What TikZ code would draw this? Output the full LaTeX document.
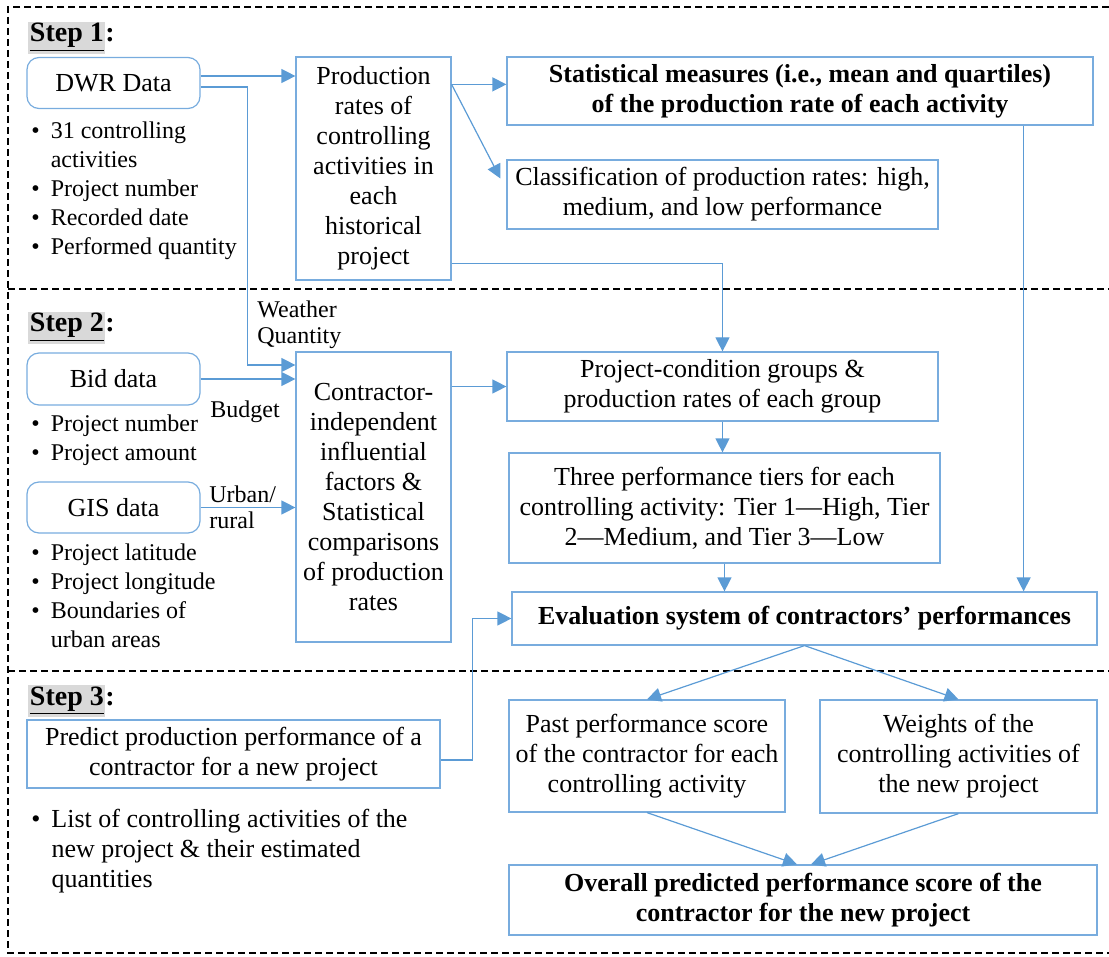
\documentclass[tikz,border=0pt]{standalone}
\usepackage{fontspec}
\setmainfont{Liberation Serif}
\usetikzlibrary{arrows.meta}
\definecolor{lineblue}{RGB}{91,155,213}
\definecolor{boxblue}{RGB}{120,172,222}
\definecolor{stepgray}{RGB}{217,217,217}
\newcommand{\boxfont}{\fontsize{13}{15}\selectfont}
\newcommand{\listfont}{\fontsize{12}{14.5}\selectfont}
\newcommand{\steplabel}[1]{{\setlength{\fboxsep}{0.8pt}\colorbox{stepgray}{\underline{Step #1}}}:}
\tikzset{
    box/.style={draw=boxblue, line width=0.6pt, align=center, inner sep=1pt, font=\boxfont},
    rbox/.style={box, rounded corners=6pt},
    bbox/.style={box, font=\boxfont\bfseries},
    list/.style={inner sep=0pt, anchor=base west, font=\listfont},
    lbl/.style={inner sep=0pt, align=left, font=\fontsize{12}{13}\selectfont},
    stepname/.style={inner sep=0pt, anchor=base west, font=\fontsize{14}{16}\selectfont\bfseries},
    arr/.style={draw=lineblue, line width=0.6pt, -{Triangle[length=7pt,width=7pt]}},
    stepframe/.style={draw=black, line width=1pt, dash pattern=on 3.5pt off 2pt}
}
\begin{document}
\begin{tikzpicture}[x=0.5pt,y=-0.5pt]
    \useasboundingbox (0,0) rectangle (1109,957);
    % Draw step frames
    \draw[stepframe] (1109,7) -- (8,7) -- (8,953) -- (1109,953);
    \draw[stepframe] (8,289) -- (1109,289);
    \draw[stepframe] (8,671) -- (1109,671);

    % Step 1
    \node[stepname] (step1) at (28,42) {\steplabel{1}};
    \node[rbox, minimum width=86.5pt, minimum height=25.5pt] (DWR) at (113.5,83) {DWR Data};
    \node[list] (dwrlist) at (31,139) {\begin{tabular}[t]{@{}l@{\hspace{5.5pt}}l@{}}
        \textbullet & 31 controlling\\
                    & activities\\
        \textbullet & Project number\\
        \textbullet & Recorded date\\
        \textbullet & Performed quantity
    \end{tabular}};
    \node[box, minimum width=77.5pt, minimum height=111.5pt] (Production) at (373.5,168.5)
        {Production\\rates of\\controlling\\activities in\\each\\historical\\project};
    \node[bbox, minimum width=293pt, minimum height=34pt] (Statistical) at (800,91)
        {Statistical measures (i.e., mean and quartiles)\\of the production rate of each activity};
    \node[box, minimum width=215.5pt, minimum height=34.5pt] (Classification) at (722.5,194.5)
        {Classification of production rates: high,\\medium, and low performance};

    % Step 2
    \node[stepname] (step2) at (28,332) {\steplabel{2}};
    \node[lbl, anchor=north west] (weatherlbl) at (257,300) {Weather\\Quantity};
    \node[rbox, minimum width=86.5pt, minimum height=26pt] (Bid) at (113.5,379) {Bid data};
    \node[lbl, anchor=base west] (budgetlbl) at (210,417) {Budget};
    \node[list] (bidlist) at (31,431) {\begin{tabular}[t]{@{}l@{\hspace{5.5pt}}l@{}}
        \textbullet & Project number\\
        \textbullet & Project amount
    \end{tabular}};
    \node[rbox, minimum width=86.5pt, minimum height=25.5pt] (GIS) at (113.5,507.5) {GIS data};
    \node[lbl, anchor=north west] (urbanlbl) at (209,485) {Urban/\\rural};
    \node[list] (gislist) at (31,560) {\begin{tabular}[t]{@{}l@{\hspace{5.5pt}}l@{}}
        \textbullet & Project latitude\\
        \textbullet & Project longitude\\
        \textbullet & Boundaries of\\
                    & urban areas
    \end{tabular}};
    \node[box, minimum width=77.5pt, minimum height=145pt] (Contractor) at (373.5,497)
        {Contractor-\\independent\\influential\\factors \&\\Statistical\\comparisons\\of production\\rates};
    \node[box, minimum width=215.5pt, minimum height=34.5pt] (ProjCond) at (722.5,386.5)
        {Project-condition groups \&\\production rates of each group};
    \node[box, minimum width=215.5pt, minimum height=55pt] (Three) at (724.5,508)
        {Three performance tiers for each\\controlling activity: Tier 1---High, Tier\\2---Medium, and Tier 3---Low};
    \node[bbox, minimum width=292.5pt, minimum height=26.5pt] (Evaluation) at (804.5,618.5)
        {Evaluation system of contractors’ performances};

    % Step 3
    \node[stepname] (step3) at (28,705) {\steplabel{3}};
    \node[box, minimum width=206.5pt, minimum height=34pt] (Predict) at (233.5,754)
        {Predict production performance of a\\contractor for a new project};
    \node[list, font=\boxfont] (predlist) at (31,827) {\begin{tabular}[t]{@{}l@{\hspace{5.5pt}}l@{}}
        \textbullet & List of controlling activities of the\\
                    & new project \& their estimated\\
                    & quantities
    \end{tabular}};
    \node[box, minimum width=138pt, minimum height=56pt] (Past) at (647,756)
        {Past performance score\\of the contractor for each\\controlling activity};
    \node[box, minimum width=138.5pt, minimum height=56.5pt] (Weights) at (958.5,756.5)
        {Weights of the\\controlling activities of\\the new project};
    \node[bbox, minimum width=294pt, minimum height=35pt] (Overall) at (803,900)
        {Overall predicted performance score of the\\contractor for the new project};

    % Connectors
    \coordinate (dwrA) at ([yshift=3.5pt]DWR.east);
    \coordinate (dwrB) at ([yshift=-2pt]DWR.east);
    \coordinate (conA) at ([yshift=66pt]Contractor.west);
    \coordinate (prodA) at ([yshift=-14pt]Production.north east);
    \coordinate (prodB) at ([yshift=8.5pt]Production.south east);
    \coordinate (statA) at ([xshift=-35pt]Statistical.south east);
    \coordinate (predA) at ([yshift=-3pt]Predict.east);
    \draw[arr] (dwrA) -- (dwrA -| Production.west);
    \draw[arr] (dwrB) -- ++(23.5pt,0) |- (conA);
    \draw[arr] (Bid.east) -- (Bid.east -| Contractor.west);
    \draw[arr] (GIS.east) -- (GIS.east -| Contractor.west);
    \draw[arr] (prodA) -- (prodA -| Statistical.west);
    \draw[arr] (prodA) -- ([xshift=-3pt,yshift=8pt]Classification.west);
    \draw[arr] (prodB) -| (ProjCond.north);
    \draw[arr] (Contractor.east |- ProjCond.west) -- (ProjCond.west);
    \draw[arr] (statA) -- (statA |- Evaluation.north);
    \draw[arr] (ProjCond.south) -- (ProjCond.south |- Three.north);
    \draw[arr] (Three.south) -- (Three.south |- Evaluation.north);
    \draw[arr] (predA) -- ++(16pt,0) |- (Evaluation.west);
    \draw[arr] (Evaluation.south) -- (Past.north);
    \draw[arr] (Evaluation.south) -- (Weights.north);
    \draw[arr] (Past.south) -- ([xshift=-3pt]Overall.north);
    \draw[arr] (Weights.south) -- ([xshift=4pt]Overall.north);
\end{tikzpicture}
\end{document}
